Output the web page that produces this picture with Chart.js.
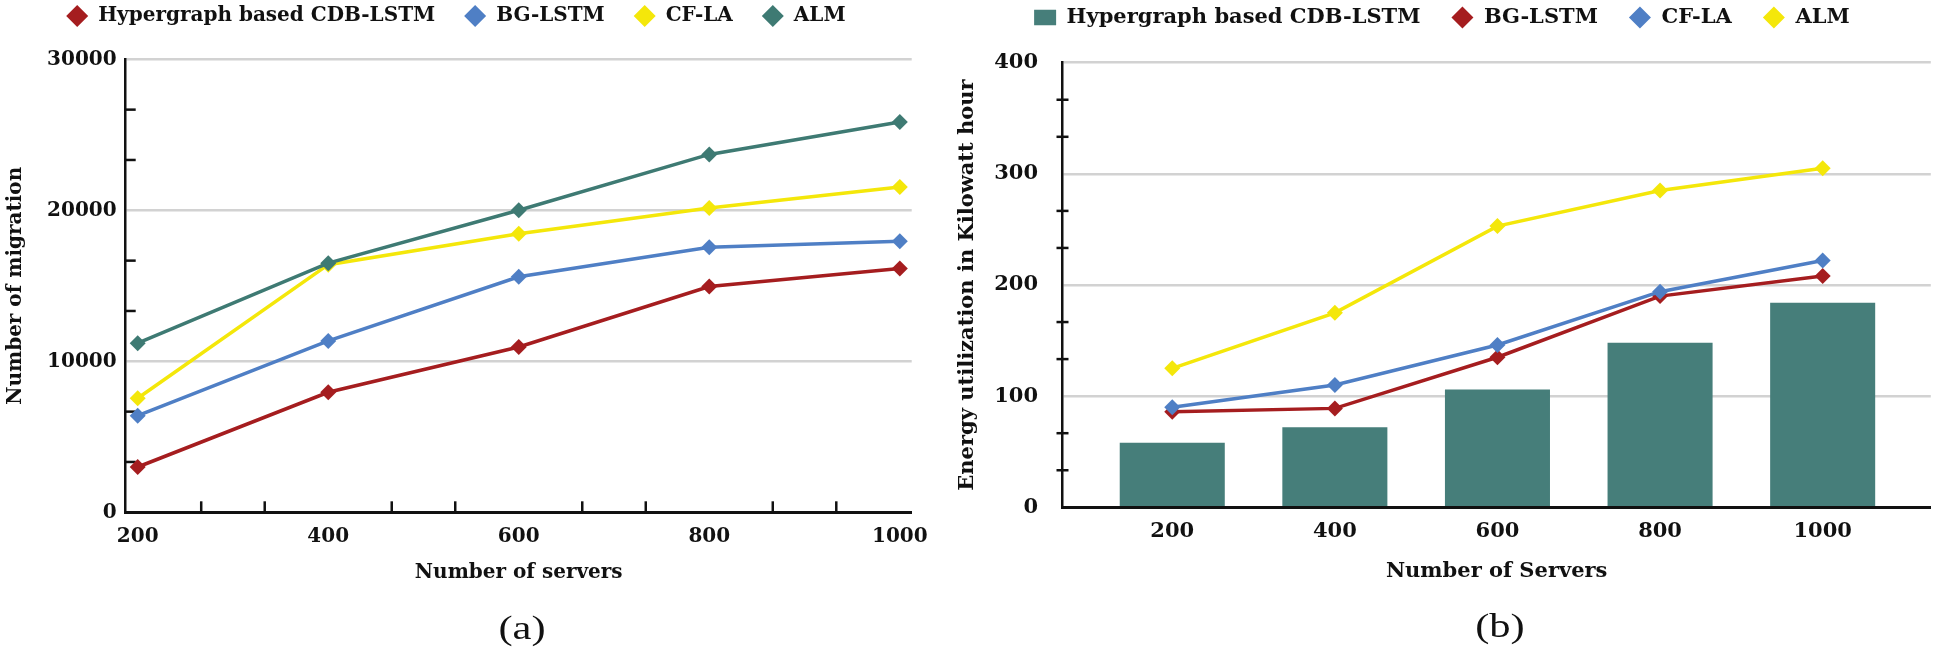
<!DOCTYPE html>
<html><head><meta charset="utf-8">
<script src="https://cdn.jsdelivr.net/npm/chart.js@4.4.1/dist/chart.umd.min.js"></script>
<style>
html,body{margin:0;padding:0;background:#fff;width:1940px;height:657px;overflow:hidden;}
#ca{position:absolute;left:0;top:0;}
#cb{position:absolute;left:953px;top:0;}
.cap{position:absolute;font-family:"Liberation Serif";font-size:34px;line-height:34px;color:#111;transform:translateX(-50%) scaleX(1.25);white-space:nowrap;}
</style></head><body>
<canvas id="ca" width="953" height="657"></canvas>
<canvas id="cb" width="987" height="657"></canvas>
<div class="cap" style="left:522px;top:611px;">(a)</div>
<div class="cap" style="left:1500px;top:609px;">(b)</div>
<script>
// ---- data ----
const servers = [200, 400, 600, 800, 1000];
const namesA = ['Hypergraph based CDB-LSTM', 'BG-LSTM', 'CF-LA', 'ALM'];
const migHypergraph = [3000, 7950, 10950, 14950, 16150];
const migBG = [6400, 11350, 15600, 17550, 17950];
const migCF = [7550, 16400, 18450, 20150, 21550];
const migALM = [11200, 16500, 20000, 23700, 25850];
const namesB = ['Hypergraph based CDB-LSTM', 'BG-LSTM', 'CF-LA', 'ALM'];
const energyHypergraph = [58, 72, 106, 148, 184];
const energyBG = [86, 89, 135, 190, 208];
const energyCF = [90, 110, 146, 194, 222];
const energyALM = [125, 175, 253, 285, 305];
const yTicksA = [0, 10000, 20000, 30000];
const yTicksB = [0, 100, 200, 300, 400];

const RED = '#a51d1f', BLUE = '#4f7fc5', YELLOW = '#f4e70a', TEAL = '#3e7a73', BAR = '#467e7a';
const INK = '#111111', GRID = '#d2d2d2';
const FONT = 'DejaVu Serif';

Chart.defaults.font.family = FONT;
Chart.defaults.font.weight = 'bold';
Chart.defaults.font.size = 20;
Chart.defaults.color = INK;

const pts = (vals) => servers.map((s, i) => ({x: s, y: vals[i]}));

const minorTicks = {
  id: 'minorTicks',
  beforeDatasetsDraw(chart, args, opts) {
    const ctx = chart.ctx, area = chart.chartArea;
    ctx.save();
    ctx.strokeStyle = INK;
    ctx.lineWidth = opts.width || 2;
    ['x', 'y'].forEach(id => {
      const o = opts[id];
      if (!o) return;
      const s = chart.scales[id];
      const vals = s.ticks.map(t => t.value);
      for (let i = 0; i < vals.length - 1; i++) {
        for (let k = 1; k < o.div; k++) {
          const v = vals[i] + (vals[i + 1] - vals[i]) * k / o.div;
          const p = s.getPixelForValue(v);
          ctx.beginPath();
          if (id === 'x') { ctx.moveTo(p, area.bottom - o.inside); ctx.lineTo(p, area.bottom + o.outside); }
          else { ctx.moveTo(area.left - o.outside, p); ctx.lineTo(area.left + o.inside, p); }
          ctx.stroke();
        }
      }
    });
    ctx.restore();
  }
};

const legendSpace = {
  id: 'legendSpace',
  beforeUpdate(chart, args, opts) {
    if (chart.legend && !chart.legend._patched) {
      const orig = chart.legend.fit;
      chart.legend.fit = function () { orig.call(this); this.height = opts.height; };
      chart.legend._patched = true;
    }
  }
};

function legendOpts(size, pad) {
  return {
    position: 'top', align: 'center',
    labels: {
      usePointStyle: true, pointStyleWidth: 22, boxHeight: 15.6, padding: pad,
      color: INK, font: {size, weight: 'bold', family: FONT},
      sort: (a, b) => a.datasetIndex - b.datasetIndex
    }
  };
}

function lineDs(label, vals, color, order) {
  return {
    type: 'line', label, data: pts(vals), borderColor: color, backgroundColor: color,
    pointBackgroundColor: color, pointBorderWidth: 0, pointStyle: 'rectRot', pointRadius: 8,
    pointHoverRadius: 8, borderWidth: 3.5, tension: 0, fill: false, order
  };
}

// ---- chart (a) ----
new Chart(document.getElementById('ca'), {
  type: 'line',
  data: {
    datasets: [
      lineDs(namesA[0], migHypergraph, RED, 0),
      lineDs(namesA[1], migBG, BLUE, 0),
      lineDs(namesA[2], migCF, YELLOW, 0),
      lineDs(namesA[3], migALM, TEAL, -1)
    ]
  },
  options: {
    responsive: false, animation: false, devicePixelRatio: 1,
    layout: {padding: {top: -23, left: 0, right: 41.3, bottom: 0}},
    plugins: {
      legend: legendOpts(20, 29),
      tooltip: {enabled: false},
      legendSpace: {height: 82.3},
      minorTicks: {width: 2.5, x: {div: 3, inside: 11, outside: 0}, y: {div: 3, inside: 10, outside: 0}}
    },
    scales: {
      x: {
        type: 'linear', min: 187.4, max: 1012.5, offset: false,
        afterBuildTicks: s => { s.ticks = servers.map(v => ({value: v})); },
        afterFit: s => { s.height = 144.7; },
        grid: {display: false, drawTicks: false},
        border: {display: true, color: INK, width: 3},
        ticks: {padding: 12, autoSkip: false, maxRotation: 0, callback: v => String(v), color: INK, font: {size: 20}},
        title: {display: true, text: 'Number of servers', color: INK, font: {size: 20}, padding: {top: 0, bottom: 72}}
      },
      y: {
        type: 'linear', min: 0, max: 30000,
        afterBuildTicks: s => { s.ticks = yTicksA.map(v => ({value: v})); },
        afterFit: s => { s.width = 125.7; },
        grid: {color: c => (c.tick && c.tick.value === 0) ? 'rgba(0,0,0,0)' : GRID, lineWidth: 2.5, drawTicks: false},
        border: {display: true, color: INK, width: 2.5},
        ticks: {padding: 9, callback: v => String(v), color: INK, font: {size: 20}},
        title: {display: true, text: 'Number of migration', color: INK, font: {size: 20}, padding: {top: 3.5, bottom: 0}}
      }
    }
  },
  plugins: [minorTicks, legendSpace]
});

// ---- chart (b) ----
new Chart(document.getElementById('cb'), {
  type: 'bar',
  data: {
    datasets: [
      {type: 'bar', label: namesB[0], data: pts(energyHypergraph), backgroundColor: BAR, borderWidth: 0,
       barPercentage: 0.646, categoryPercentage: 1, pointStyle: 'rect', order: 1},
      lineDs(namesB[1], energyBG, RED, 0),
      lineDs(namesB[2], energyCF, BLUE, -1),
      lineDs(namesB[3], energyALM, YELLOW, 0)
    ]
  },
  options: {
    responsive: false, animation: false, devicePixelRatio: 1,
    layout: {padding: {top: -24, left: 0, right: 9.2, bottom: 0}},
    plugins: {
      legend: legendOpts(21, 31),
      tooltip: {enabled: false},
      legendSpace: {height: 86.7},
      minorTicks: {width: 2.5, y: {div: 3, inside: 6, outside: 6}}
    },
    scales: {
      x: {
        type: 'linear', min: 65, max: 1133, offset: false,
        afterBuildTicks: s => { s.ticks = servers.map(v => ({value: v})); },
        afterFit: s => { s.height = 149.7; },
        grid: {display: false, drawTicks: false, offset: false},
        border: {display: true, color: INK, width: 3},
        ticks: {padding: 12, autoSkip: false, maxRotation: 0, callback: v => String(v), color: INK, font: {size: 21}},
        title: {display: true, text: 'Number of Servers', color: INK, font: {size: 21}, padding: {top: 0, bottom: 72.8}}
      },
      y: {
        type: 'linear', min: 0, max: 400,
        afterBuildTicks: s => { s.ticks = yTicksB.map(v => ({value: v})); },
        afterFit: s => { s.width = 109.5; },
        grid: {color: c => (c.tick && c.tick.value === 0) ? 'rgba(0,0,0,0)' : GRID, lineWidth: 2.5, drawTicks: false},
        border: {display: true, color: INK, width: 2.5},
        ticks: {padding: 24.5, callback: v => String(v), color: INK, font: {size: 21}},
        title: {display: true, text: 'Energy utilization in Kilowatt hour', color: INK, font: {size: 21}, padding: {top: 1.5, bottom: 0}}
      }
    }
  },
  plugins: [minorTicks, legendSpace]
});
</script>
</body></html>
